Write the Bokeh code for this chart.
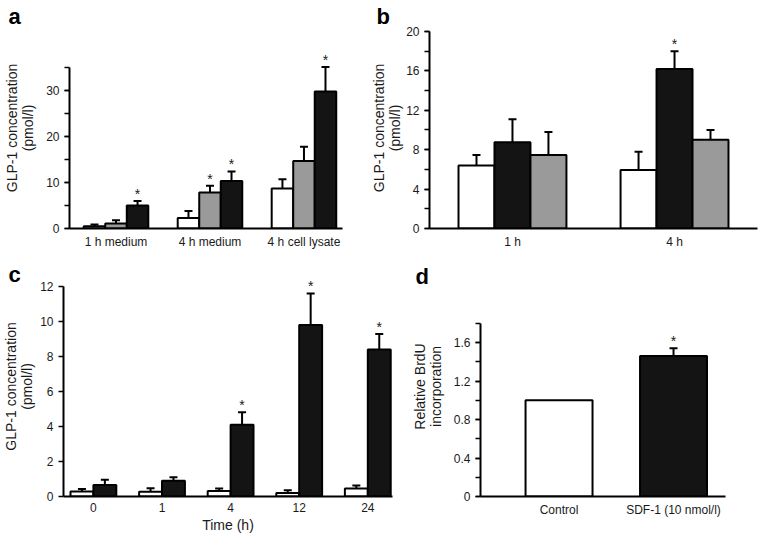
from bokeh.plotting import figure
from bokeh.models import (ColumnDataSource, Whisker, TeeHead, Range1d, Title,
                          SingleIntervalTicker, FixedTicker)
from bokeh.layouts import row, column
from bokeh.transform import dodge
from bokeh.core.properties import value
from bokeh.embed import file_html
from bokeh.resources import INLINE

FONT = "Liberation Sans"
WHITE = "#ffffff"
GRAY = "#9a9a9a"
BLACK = "#141414"

# ---------------- data ----------------
# panel a
a_groups = ["1 h medium", "4 h medium", "4 h cell lysate"]
a_white = [0.5, 2.3, 8.7]
a_white_err = [0.35, 1.5, 2.0]
a_gray = [1.1, 7.8, 14.7]
a_gray_err = [0.7, 1.5, 3.1]
a_black = [5.0, 10.3, 29.8]
a_black_err = [1.0, 2.1, 5.3]
a_white_sig = [False, False, False]
a_gray_sig = [False, True, False]
a_black_sig = [True, True, True]

# panel b (order: white, black, gray)
b_groups = ["1 h", "4 h"]
b_white = [6.4, 5.95]
b_white_err = [1.05, 1.85]
b_black = [8.75, 16.2]
b_black_err = [2.35, 1.8]
b_gray = [7.45, 9.0]
b_gray_err = [2.35, 1.0]
b_white_sig = [False, False]
b_black_sig = [False, True]
b_gray_sig = [False, False]

# panel c
c_groups = ["0", "1", "4", "12", "24"]
c_white = [0.28, 0.27, 0.32, 0.2, 0.45]
c_white_err = [0.15, 0.2, 0.14, 0.16, 0.18]
c_black = [0.65, 0.9, 4.1, 9.8, 8.4]
c_black_err = [0.3, 0.2, 0.72, 1.8, 0.88]
c_white_sig = [False] * 5
c_black_sig = [False, False, True, True, True]

# panel d
d_groups = ["Control", "SDF-1 (10 nmol/l)"]
d_values = [1.0, 1.46]
d_err = [0.0, 0.08]
d_sig = [False, True]
d_colors = [WHITE, BLACK]

HAS_STANDOFF = "standoff" in Title.properties()


def make_fig(width, height, xr, yr, borders):
    left, right, top, bottom = borders
    p = figure(width=width, height=height, output_backend="svg",
               toolbar_location=None, x_range=Range1d(*xr), y_range=Range1d(*yr),
               min_border_left=left, min_border_right=right,
               min_border_top=top, min_border_bottom=bottom)
    p.outline_line_color = None
    p.grid.visible = False
    p.background_fill_color = "white"
    p.border_fill_color = "white"
    return p


def style_axes(p, labels, interval, minor, ybounds, ylabel, ystandoff,
               xlabel=None, yoverrides=None):
    xa = p.xaxis[0]
    xa.ticker = FixedTicker(ticks=list(range(len(labels))))
    xa.major_label_overrides = {i: l for i, l in enumerate(labels)}
    xa.major_tick_line_color = None
    xa.minor_tick_line_color = None
    xa.major_tick_out = 0
    xa.major_tick_in = 0
    xa.minor_tick_out = 0
    xa.minor_tick_in = 0
    xa.axis_line_width = 2
    xa.axis_line_color = "black"
    xa.major_label_text_font = FONT
    xa.major_label_text_font_size = "12px"
    xa.major_label_text_color = "#1a1a1a"
    xa.major_label_standoff = 6
    if xlabel:
        xa.axis_label = xlabel
        xa.axis_label_text_font = FONT
        xa.axis_label_text_font_size = "14px"
        xa.axis_label_text_font_style = "normal"
        xa.axis_label_text_color = "#1a1a1a"
        xa.axis_label_standoff = 2

    ya = p.yaxis[0]
    ya.ticker = SingleIntervalTicker(interval=interval, num_minor_ticks=minor)
    ya.bounds = ybounds
    ya.axis_line_width = 2
    ya.axis_line_color = "black"
    ya.major_tick_in = 0
    ya.major_tick_out = 5
    ya.major_tick_line_width = 1.5
    ya.minor_tick_in = 0
    ya.minor_tick_out = 5
    ya.minor_tick_line_width = 1.5
    if minor == 0:
        ya.minor_tick_line_color = None
    ya.major_label_text_font = FONT
    ya.major_label_text_font_size = "12px"
    ya.major_label_text_color = "#1a1a1a"
    ya.major_label_standoff = 5
    if yoverrides:
        ya.major_label_overrides = yoverrides
    ya.axis_label = ylabel
    ya.axis_label_text_font = FONT
    ya.axis_label_text_font_size = "14px"
    ya.axis_label_text_font_style = "normal"
    ya.axis_label_text_color = "#1a1a1a"
    ya.axis_label_text_line_height = 1.0
    ya.axis_label_standoff = ystandoff


def add_series(p, vals, errs, sig, offset, width, color):
    n = len(vals)
    src = ColumnDataSource(dict(
        x=list(range(n)), top=vals,
        upper=[v + e for v, e in zip(vals, errs)],
        star=["*" if s else "" for s in sig],
        color=color if isinstance(color, list) else [color] * n,
    ))
    p.vbar(x=dodge("x", offset), top="top", bottom=0, width=width,
           fill_color="color", line_color="black", line_width=2, source=src)
    keep = [i for i, e in enumerate(errs) if e > 0]
    wsrc = ColumnDataSource(dict(
        x=keep, top=[vals[i] for i in keep],
        upper=[vals[i] + errs[i] for i in keep],
    ))
    w = Whisker(base=dodge("x", offset), lower="top", upper="upper", source=wsrc,
                dimension="height", line_width=2, line_color="black",
                upper_head=TeeHead(size=8, line_width=2, line_color="black"),
                lower_head=None)
    p.add_layout(w)
    p.text(x=dodge("x", offset), y="upper", text="star", source=src,
           text_align="center", text_baseline="bottom", text_font=value(FONT),
           text_font_size="14px", text_color="#1a1a1a", y_offset=1)


def title_letter(p, txt, offset, standoff):
    t = Title(text=txt, align="left", offset=offset, text_font=FONT,
              text_font_size="22px", text_font_style="bold", text_color="black")
    if HAS_STANDOFF:
        t.standoff = standoff
    p.title = t


YLAB = "GLP-1 concentration\n(pmol/l)"

# ---------------- panel a ----------------
pa = make_fig(363, 258, (-0.495, 2.41), (0, 43.7), (69, 21, 27, 30))
bw = 0.229
add_series(pa, a_white, a_white_err, a_white_sig, -bw, bw, WHITE)
add_series(pa, a_gray, a_gray_err, a_gray_sig, 0, bw, GRAY)
add_series(pa, a_black, a_black_err, a_black_sig, bw, bw, BLACK)
style_axes(pa, a_groups, 10, 2, (0, 35), YLAB, 7)
title_letter(pa, "a", -61, -2)

# ---------------- panel b ----------------
pb = make_fig(399, 258, (-0.512, 1.512), (0, 20.4), (66, 5, 27, 30))
bw = 0.222
add_series(pb, b_white, b_white_err, b_white_sig, -bw, bw, WHITE)
add_series(pb, b_black, b_black_err, b_black_sig, 0, bw, BLACK)
add_series(pb, b_gray, b_gray_err, b_gray_sig, bw, bw, GRAY)
style_axes(pb, b_groups, 4, 2, (0, 20), YLAB, 0)
title_letter(pb, "b", -53, -2)

# ---------------- panel c ----------------
pc = make_fig(404, 281, (-0.436, 4.36), (0, 12.57), (62, 12, 18, 43))
bw = 0.334
add_series(pc, c_white, c_white_err, c_white_sig, -bw / 2, bw, WHITE)
add_series(pc, c_black, c_black_err, c_black_sig, bw / 2, bw, BLACK)
style_axes(pc, c_groups, 2, 0, (0, 12), YLAB, 2, xlabel="Time (h)")
title_letter(pc, "c", -55, -20)

# ---------------- panel d ----------------
pd_ = make_fig(358, 281, (-0.686, 1.454), (0, 2.286), (76, 37, 18, 43))
add_series(pd_, d_values, d_err, d_sig, 0, 0.585, d_colors)
style_axes(pd_, d_groups, 0.4, 2, (0, 1.8), "Relative BrdU\nincorporation", 7,
           yoverrides={0: "0"})
title_letter(pd_, "d", -65, -25)

layout = column(row(pa, pb), row(pc, pd_))

with open("out.html", "w") as f:
    f.write(file_html(layout, INLINE))
